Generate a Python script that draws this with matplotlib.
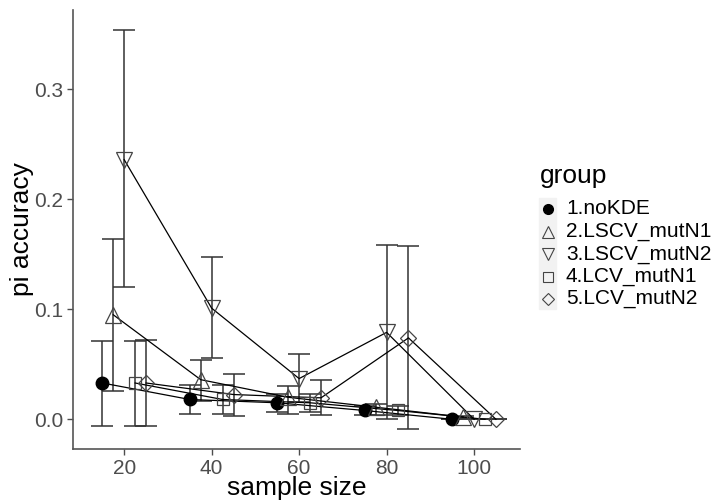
import numpy as np
import matplotlib.pyplot as plt
from matplotlib.lines import Line2D
from matplotlib.patches import Rectangle

plt.rcParams['font.family'] = ['Liberation Sans', 'DejaVu Sans']

sample_size = [20, 40, 60, 80, 100]
groups = ["1.noKDE", "2.LSCV_mutN1", "3.LSCV_mutN2", "4.LCV_mutN1", "5.LCV_mutN2"]
offsets = [-5, -2.5, 0, 2.5, 5]

noKDE      = [0.033, 0.018, 0.015, 0.008, 0.0]
noKDE_lo   = [-0.006, 0.005, 0.007, 0.004, 0.0]
noKDE_hi   = [0.071, 0.031, 0.023, 0.012, 0.0]

lscv1      = [0.095, 0.036, 0.020, 0.011, 0.002]
lscv1_lo   = [0.026, 0.017, 0.005, 0.004, 0.001]
lscv1_hi   = [0.164, 0.054, 0.030, 0.014, 0.003]

lscv2      = [0.236, 0.101, 0.037, 0.079, 0.0]
lscv2_lo   = [0.120, 0.056, 0.016, 0.0, 0.0]
lscv2_hi   = [0.354, 0.1475, 0.059, 0.1585, 0.0]

lcv1       = [0.033, 0.018, 0.015, 0.008, 0.0]
lcv1_lo    = [-0.006, 0.005, 0.007, 0.004, 0.0]
lcv1_hi    = [0.071, 0.031, 0.023, 0.012, 0.0]

lcv2       = [0.033, 0.0225, 0.0195, 0.074, 0.0]
lcv2_lo    = [-0.006, 0.003, 0.0035, -0.009, 0.0]
lcv2_hi    = [0.072, 0.0415, 0.036, 0.1575, 0.0]

means = [noKDE, lscv1, lscv2, lcv1, lcv2]
lows = [noKDE_lo, lscv1_lo, lscv2_lo, lcv1_lo, lcv2_lo]
highs = [noKDE_hi, lscv1_hi, lscv2_hi, lcv1_hi, lcv2_hi]
markers = ['o', '^', 'v', 's', 'D']
msizes = [9, 11, 11, 8, 8]

fig = plt.figure(figsize=(7.18, 5), dpi=100)
ax = fig.add_axes([73/718, 1-449/500, (520-73)/718, (449-10)/500])

for m, lo, hi, mk, ms, off in zip(means, lows, highs, markers, msizes, offsets):
    x = np.array(sample_size) + off
    m = np.array(m)
    yerr = [m - np.array(lo), np.array(hi) - m]
    ax.errorbar(x, m, yerr=yerr, fmt='none', ecolor='#333333', elinewidth=1.1,
                capsize=8, capthick=1.1, zorder=2)
    ax.plot(x, m, color='black', lw=0.9, zorder=3)
    if mk == 'o':
        ax.plot(x, m, mk, ms=ms, color='black', zorder=4)
    else:
        ax.plot(x, m, mk, ms=ms, mfc='none', mec='#444444', mew=0.9, zorder=4)

ax.set_xlim(8.3, 110.5)
ax.set_ylim(-0.027, 0.372)
ax.set_xticks([20, 40, 60, 80, 100])
ax.set_yticks([0.0, 0.1, 0.2, 0.3])
ax.set_yticklabels(['0.0', '0.1', '0.2', '0.3'])
ax.tick_params(colors='#4d4d4d', labelsize=15, width=1, length=4, pad=3)
for s in ['top', 'right']:
    ax.spines[s].set_visible(False)
for s in ['left', 'bottom']:
    ax.spines[s].set_color('#555555')
    ax.spines[s].set_linewidth(1.2)

# axis titles placed in figure pixels
fig.text((73+520)/2/718, 1-495/500, "sample size", fontsize=19,
         ha='center', va='baseline')
fig.text(22/718, 1-229.5/500, "pi accuracy", fontsize=19, rotation=90,
         ha='center', va='center')

# legend, placed by hand like the ggplot guide
fig.patches.append(Rectangle((539/718, 1-309/500), 17/718, 111/500,
                             transform=fig.transFigure, color='#f2f2f2', zorder=0))
fig.text(540/718, 1-176/500, "group", fontsize=19, va='center', ha='left')
for i, (g, mk) in enumerate(zip(groups, markers)):
    yy = 1 - (209 + 22.5*i)/500
    if mk == 'o':
        h = Line2D([548/718], [yy], ls='none', marker=mk, ms=7, color='black',
                   transform=fig.transFigure)
    else:
        h = Line2D([548/718], [yy], ls='none', marker=mk, ms=9 if mk in '^v' else 6.5,
                   mfc='none', mec='#444444', mew=0.8, transform=fig.transFigure)
    fig.lines.append(h)
    fig.text(566/718, yy, g, fontsize=15, va='center', ha='left')

fig.savefig('out.png', dpi=100)
